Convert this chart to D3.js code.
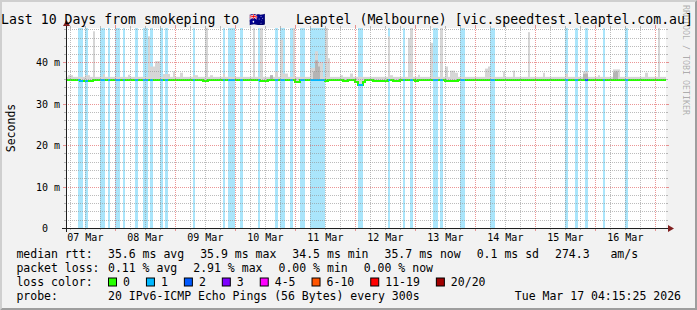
<!DOCTYPE html>
<html>
<head>
<meta charset="utf-8">
<script src="https://cdn.jsdelivr.net/npm/d3@7/dist/d3.min.js"></script>
<style>
  html, body { margin: 0; padding: 0; background: #f2f2f2; overflow: hidden; }
  svg { display: block; }
  text { font-family: "DejaVu Sans Mono", monospace; fill: #000; white-space: pre; }
</style>
</head>
<body>
<svg id="chart" width="697" height="310"></svg>
<script>
// ---------------- data ----------------
const titleParts = ["Last 10 Days from smokeping to ", "\u{1F1E6}\u{1F1FA}", " Leaptel (Melbourne) [vic.speedtest.leaptel.com.au]"];
const yAxisTitle = "Seconds";
const watermark = "RRDTOOL / TOBI OETIKER";
const rangeStart = new Date(2026, 2, 7, 4, 15, 25);
const rangeEnd = new Date(2026, 2, 17, 4, 15, 25);
const yMax = 48.3;
const yTickValues = [0, 10, 20, 30, 40];
const yTickLabels = ["0", "10 m", "20 m", "30 m", "40 m"];
const dayLabels = ["07 Mar", "08 Mar", "09 Mar", "10 Mar", "11 Mar", "12 Mar", "13 Mar", "14 Mar", "15 Mar", "16 Mar"];
const dayLabelDays = [7, 8, 9, 10, 11, 12, 13, 14, 15, 16];

// hourly rows, one row per day (07 Mar .. 17 Mar), index = hour of day
// lost pings (of 20) per hour
const lossRows = [
  [0,0,0,0,0,0,0,0,0,1,1,0,1,0,0,0,0,0,1,1,0,1,0,0],
  [1,1,0,1,0,0,0,0,1,0,0,1,1,0,1,0,0,0,1,0,1,0,0,0],
  [0,0,0,0,0,0,0,1,0,0,0,0,0,0,0,0,0,0,0,1,0,1,1,1],
  [0,0,1,0,0,0,0,0,0,1,0,0,0,0,0,0,1,0,1,1,0,0,1,0],
  [0,0,1,1,0,0,1,1,1,1,1,1,0,0,0,0,0,0,0,0,0,0,0,0],
  [0,1,1,0,0,0,0,0,0,0,0,0,0,1,0,0,0,0,0,1,0,0,1,0],
  [0,0,0,0,0,0,0,1,1,0,1,0,0,0,0,0,0,0,1,1,0,0,0,0],
  [0,0,0,0,0,0,1,1,0,0,0,0,0,0,0,0,0,0,0,0,0,0,0,0],
  [0,0,0,0,0,0,0,0,0,0,0,0,1,0,0,0,1,0,0,0,2,0,0,0],
  [0,0,0,1,0,0,0,0,0,0,0,0,1,0,0,0,0,0,0,0,0,0,0,0],
  [0,0,0,0,0]
];
// median rtt (ms) per hour
const medianRows = [
  [35.7,35.7,35.7,35.7,35.7,35.7,35.7,35.7,35.7,35.7,35.5,35.5,35.5,35.5,35.5,35.7,35.7,35.7,35.7,35.7,35.7,35.7,35.7,35.7],
  [35.7,35.7,35.7,35.7,35.7,35.7,35.7,35.7,35.7,35.7,35.7,35.7,35.7,35.7,35.7,35.7,35.7,35.7,35.7,35.7,35.7,35.7,35.7,35.7],
  [35.7,35.7,35.7,35.7,35.7,35.7,35.7,35.7,35.7,35.7,35.7,35.5,35.5,35.7,35.7,35.7,35.7,35.7,35.7,35.7,35.7,35.7,35.7,35.7],
  [35.7,35.7,35.7,35.7,35.7,35.7,35.7,35.7,35.7,35.7,35.5,35.5,35.5,35.7,35.7,35.7,35.7,35.7,35.7,35.7,35.7,35.7,35.7,35.7],
  [35.2,35.2,35.7,35.7,35.7,35.7,35.7,35.7,35.7,35.7,35.7,35.7,35.5,35.7,35.7,35.7,35.7,35.7,35.7,35.5,35.5,35.7,35.7,35.7],
  [35.2,34.5,34.5,35.2,35.7,35.7,35.7,35.5,35.5,35.5,35.5,35.5,35.5,35.7,35.7,35.5,35.5,35.5,35.7,35.7,35.7,35.7,35.7,35.7],
  [35.5,35.7,35.7,35.7,35.7,35.7,35.7,35.7,35.7,35.7,35.7,35.7,35.5,35.5,35.5,35.5,35.5,35.7,35.7,35.7,35.7,35.7,35.7,35.7],
  [35.7,35.7,35.7,35.7,35.7,35.7,35.7,35.7,35.7,35.7,35.7,35.7,35.7,35.7,35.7,35.7,35.7,35.7,35.7,35.7,35.7,35.7,35.7,35.7],
  [35.7,35.7,35.7,35.7,35.7,35.7,35.7,35.7,35.7,35.7,35.7,35.7,35.7,35.7,35.7,35.7,35.7,35.7,35.7,35.7,35.7,35.7,35.7,35.7],
  [35.7,35.7,35.7,35.7,35.7,35.7,35.7,35.7,35.7,35.7,35.7,35.7,35.7,35.7,35.7,35.7,35.7,35.7,35.7,35.7,35.7,35.7,35.7,35.7],
  [35.7,35.7,35.7,35.7,35.7]
];
// highest ping of the hour (ms) -- top of the smoke
const smokeTopRows = [
  [36.5,36.5,36.5,36.5,36.5,36.9,36.9,36.5,36.5,36.5,36.5,36.5,36.9,36.9,36.5,47.5,36.5,36.5,36.5,37.2,36.5,36.5,36.5,36.5],
  [36.5,36.5,36.5,36.5,36.5,37.0,36.5,36.5,36.5,36.5,36.5,36.5,36.5,46.3,39.0,39.0,40.3,40.3,36.5,37.2,37.2,37.2,36.5,37.8],
  [36.5,36.5,37.5,36.5,36.5,36.5,36.5,36.9,36.9,36.5,36.5,36.5,48.3,36.5,36.9,36.5,36.5,36.5,36.5,37.3,36.5,36.5,36.5,36.5],
  [36.5,36.5,36.5,36.5,36.5,36.5,36.5,48.3,36.5,36.5,48.3,36.5,36.5,36.5,36.9,36.5,37.8,36.5,45.5,37.3,37.3,36.5,36.5,48.3],
  [36.5,36.5,36.5,36.5,36.5,36.5,38.7,38.7,42.7,40.0,40.0,36.5,48.3,41.0,36.5,36.5,36.5,36.5,36.9,36.5,36.5,36.5,37.3,36.5],
  [36.5,36.5,36.5,36.5,36.5,36.5,36.5,36.5,36.5,36.5,36.5,36.5,36.5,46.3,36.9,36.5,36.5,36.5,36.5,36.5,36.5,45.9,48.3,36.5],
  [36.5,37.0,36.5,36.5,36.5,36.5,44.7,36.5,36.5,36.5,48.3,36.5,39.0,36.5,38.0,38.0,37.5,36.5,36.5,36.5,36.5,36.5,36.5,36.5],
  [36.5,36.5,36.5,36.5,38.5,39.0,36.5,36.5,36.5,36.5,36.5,37.8,36.5,36.5,36.5,38.0,36.5,36.5,36.5,36.5,36.5,47.3,36.5,36.5],
  [36.5,36.5,36.5,37.5,36.5,36.5,36.5,36.5,36.5,36.5,36.5,36.5,37.3,36.5,36.5,36.5,36.5,36.5,36.5,37.8,37.8,36.5,36.5,36.5],
  [36.5,36.9,36.5,36.5,36.5,36.5,36.5,38.3,38.3,38.3,36.5,36.5,36.5,36.5,36.5,36.5,36.5,36.5,36.5,36.5,37.5,36.5,36.5,36.5],
  [36.5,48.3,36.5,36.5,36.5]
];
// inner (darker) smoke: [hour offset from 07 Mar 00:00, ms]
const smokeDark = [[86, 36.9], [103, 37.8], [104, 40.5], [105, 39.0], [211, 37.2], [212, 37.3], [223, 37.6], [224, 37.8]];

const legendRtt = ["35.6 ms avg", "35.9 ms max", "34.5 ms min", "35.7 ms now", "0.1 ms sd", "274.3   am/s"];
const legendLoss = ["0.11 % avg", "2.91 % max", "0.00 % min", "0.00 % now"];
const lossColorLabels = ["0", "1", "2", "3", "4-5", "6-10", "11-19", "20/20"];
const lossColors = ["#26ff00", "#00b8ff", "#0059ff", "#7e00ff", "#ff00ff", "#ff5500", "#ff0000", "#a10000"];
const lossColorMax = [0, 1, 2, 3, 5, 10, 19, 20];
const probeText = "20 IPv6-ICMP Echo Pings (56 Bytes) every 300s";
const stampText = "Tue Mar 17 04:15:25 2026";

// ---------------- layout ----------------
const W = 697, H = 310;
const X0 = 66, X1 = 666, Y0 = 228, Y1 = 28;
const svg = d3.select("#chart");

svg.append("rect").attr("width", W).attr("height", H).attr("fill", "#f2f2f2");
svg.append("path").attr("d", `M0,${H} L2,${H-2} L2,2 L${W-2},2 L${W},0 L0,0 Z`).attr("fill", "#cfcfcf");
svg.append("path").attr("d", `M2,${H-2} L${W-2},${H-2} L${W-2},2 L${W},0 L${W},${H} L0,${H} Z`).attr("fill", "#9e9e9e");

const x = d3.scaleTime().domain([rangeStart, rangeEnd]).range([X0, X1]);
const y = d3.scaleLinear().domain([0, yMax]).range([Y0, Y1]);
const xs = t => Math.round(x(t));

svg.append("rect").attr("x", X0).attr("y", Y1).attr("width", X1 - X0).attr("height", Y0 - Y1).attr("fill", "#fff");

const defs = svg.append("defs");
defs.append("clipPath").attr("id", "plotclip").append("rect")
  .attr("x", X0).attr("y", Y1).attr("width", X1 - X0).attr("height", Y0 - Y1);

// flatten hourly rows
const dayBase = new Date(2026, 2, 7, 0, 0, 0);
const HOUR = 3600e3;
const bins = [];
lossRows.forEach((row, d) => {
  row.forEach((loss, hh) => {
    const h = d * 24 + hh;
    const t0 = new Date(+dayBase + h * HOUR), t1 = new Date(+dayBase + (h + 1) * HOUR);
    if (+t1 <= +rangeStart || +t0 >= +rangeEnd) return;
    bins.push({ h, t0, t1, loss, median: medianRows[d][hh], top: smokeTopRows[d][hh] });
  });
});
const binByH = new Map(bins.map(b => [b.h, b]));

const plot = svg.append("g").attr("clip-path", "url(#plotclip)");

// loss background
plot.append("g").selectAll("rect").data(bins.filter(b => b.loss > 0)).join("rect")
  .attr("x", b => xs(b.t0)).attr("width", b => xs(b.t1) - xs(b.t0))
  .attr("y", Y1).attr("height", Y0 - Y1)
  .attr("fill", "#aae5fb");

// smoke
plot.append("g").selectAll("rect").data(bins).join("rect")
  .attr("x", b => xs(b.t0)).attr("width", b => xs(b.t1) - xs(b.t0))
  .attr("y", b => y(b.top)).attr("height", b => Math.round(y(b.median)) - y(b.top))
  .attr("fill", "#d6d6d6");
plot.append("g").selectAll("rect").data(smokeDark.filter(s => binByH.has(s[0]))).join("rect")
  .attr("x", s => xs(binByH.get(s[0]).t0)).attr("width", s => xs(binByH.get(s[0]).t1) - xs(binByH.get(s[0]).t0))
  .attr("y", s => y(s[1])).attr("height", s => Math.round(y(binByH.get(s[0]).median)) - y(s[1]))
  .attr("fill", "#b4b4b4");

// median line (step), coloured by loss
function lossColor(l) { for (let i = 0; i < lossColorMax.length; i++) if (l <= lossColorMax[i]) return lossColors[i]; return lossColors[lossColors.length - 1]; }
const ym = v => Math.round(y(v));
const stepPts = [];
bins.forEach(b => { stepPts.push([xs(b.t0), ym(b.median)]); stepPts.push([xs(b.t1), ym(b.median)]); });
plot.append("path").attr("d", d3.line()(stepPts)).attr("fill", "none")
  .attr("stroke", lossColors[0]).attr("stroke-width", 2);
plot.append("g").selectAll("path").data(bins.filter(b => b.loss > 0)).join("path")
  .attr("d", b => d3.line()([[xs(b.t0), ym(b.median)], [xs(b.t1), ym(b.median)]]))
  .attr("stroke", b => lossColor(b.loss)).attr("stroke-width", 2).attr("fill", "none");

// grid
const grid = svg.append("g");
const minorY = d3.range(2, yMax, 2).filter(v => v % 10 !== 0);
const majorY = yTickValues.filter(v => v > 0);
const minorColor = "rgba(143,143,143,0.6)", majorColor = "rgba(222,80,80,0.6)";
minorY.forEach(v => {
  const yy = Math.round(y(v)) + 0.5;
  grid.append("line").attr("x1", X0).attr("x2", X1).attr("y1", yy).attr("y2", yy)
    .attr("stroke", minorColor).attr("stroke-dasharray", "1,1");
  grid.append("line").attr("x1", X0 - 2).attr("x2", X0).attr("y1", yy).attr("y2", yy).attr("stroke", minorColor);
  grid.append("line").attr("x1", X1).attr("x2", X1 + 2).attr("y1", yy).attr("y2", yy).attr("stroke", minorColor);
});
majorY.forEach(v => {
  const yy = Math.round(y(v)) + 0.5;
  grid.append("line").attr("x1", X0).attr("x2", X1).attr("y1", yy).attr("y2", yy)
    .attr("stroke", majorColor).attr("stroke-dasharray", "1,1");
  grid.append("line").attr("x1", X0 - 3).attr("x2", X0).attr("y1", yy).attr("y2", yy).attr("stroke", majorColor);
  grid.append("line").attr("x1", X1).attr("x2", X1 + 3).attr("y1", yy).attr("y2", yy).attr("stroke", majorColor);
});
const minorT = d3.timeHour.every(6).range(rangeStart, rangeEnd).filter(t => t.getHours() !== 0);
const majorT = d3.timeDay.range(rangeStart, rangeEnd);
minorT.forEach(t => {
  const xx = Math.round(x(t)) + 0.5;
  grid.append("line").attr("x1", xx).attr("x2", xx).attr("y1", Y1).attr("y2", Y0)
    .attr("stroke", minorColor).attr("stroke-dasharray", "1,1");
  grid.append("line").attr("x1", xx).attr("x2", xx).attr("y1", Y0).attr("y2", Y0 + 2).attr("stroke", minorColor);
  grid.append("line").attr("x1", xx).attr("x2", xx).attr("y1", Y1 - 2).attr("y2", Y1).attr("stroke", minorColor);
});
majorT.forEach(t => {
  const xx = Math.round(x(t)) + 0.5;
  grid.append("line").attr("x1", xx).attr("x2", xx).attr("y1", Y1).attr("y2", Y0)
    .attr("stroke", majorColor).attr("stroke-dasharray", "1,1");
  grid.append("line").attr("x1", xx).attr("x2", xx).attr("y1", Y0).attr("y2", Y0 + 3).attr("stroke", majorColor);
  grid.append("line").attr("x1", xx).attr("x2", xx).attr("y1", Y1 - 3).attr("y2", Y1).attr("stroke", majorColor);
});

// axes + arrows
svg.append("line").attr("x1", X0 - 4).attr("x2", X1 + 4).attr("y1", Y0 + 0.5).attr("y2", Y0 + 0.5).attr("stroke", "#1f1f1f");
svg.append("line").attr("x1", X0 + 0.5).attr("x2", X0 + 0.5).attr("y1", Y0 + 4).attr("y2", Y1 - 4).attr("stroke", "#1f1f1f");
svg.append("path").attr("d", `M${X1 + 2},${Y0 + 0.5 - 3.5} L${X1 + 2},${Y0 + 0.5 + 3.5} L${X1 + 8},${Y0 + 0.5} Z`).attr("fill", "#801f1f");
svg.append("path").attr("d", `M${X0 + 0.5 - 3.5},${Y1 - 2} L${X0 + 0.5 + 3.5},${Y1 - 2} L${X0 + 0.5},${Y1 - 8} Z`).attr("fill", "#801f1f");

// y labels
svg.append("g").selectAll("text").data(yTickValues).join("text")
  .attr("x", (v, i) => v === 0 ? 48 : 60)
  .attr("y", v => Math.round(y(v)) + 0.5).attr("dy", "0.35em")
  .attr("text-anchor", "end").attr("font-size", "10px")
  .text((v, i) => yTickLabels[i]);
// x labels
svg.append("g").selectAll("text").data(dayLabelDays).join("text")
  .attr("x", d => x(new Date(2026, 2, d, 12, 0, 0)))
  .attr("y", 241).attr("text-anchor", "middle").attr("font-size", "10px")
  .text((d, i) => dayLabels[i]);

// y axis title
svg.append("text").attr("transform", "translate(15,128) rotate(-90)")
  .attr("text-anchor", "middle").attr("font-size", "11.5px").text(yAxisTitle);

// watermark
svg.append("text").attr("transform", "translate(683,5) rotate(90)")
  .attr("font-size", "8.3px").attr("fill", "#000").attr("fill-opacity", 0.3).text(watermark);

// title
const titleX = [1, 249, 288];
titleParts.forEach((t, i) => {
  svg.append("text").attr("x", titleX[i]).attr("y", 24).attr("font-size", "13.2px").text(t);
});

// legend
const LX = 16.4, VX = 108, GAP = 16, FS = "11.5px";
const rowsY = [257.5, 271.5, 285.5, 299.5];
function txt(xp, yp, s, anchor) {
  return svg.append("text").attr("x", xp).attr("y", yp).attr("font-size", FS)
    .attr("text-anchor", anchor || "start").text(s);
}
txt(LX, rowsY[0], "median rtt:");
let cx = VX;
legendRtt.forEach(s => { const n = txt(cx, rowsY[0], s); cx += n.node().getComputedTextLength() + GAP; });
txt(LX, rowsY[1], "packet loss:");
cx = VX;
legendLoss.forEach(s => { const n = txt(cx, rowsY[1], s); cx += n.node().getComputedTextLength() + GAP; });
txt(LX, rowsY[2], "loss color:");
cx = VX;
lossColorLabels.forEach((s, i) => {
  svg.append("rect").attr("x", cx + 0.5).attr("y", rowsY[2] - 7.5).attr("width", 8).attr("height", 8)
    .attr("fill", lossColors[i]).attr("stroke", "#000").attr("stroke-width", 1);
  const n = txt(cx + 15, rowsY[2], s);
  cx += 15 + n.node().getComputedTextLength() + GAP;
});
txt(LX, rowsY[3], "probe:");
txt(VX, rowsY[3], probeText);
txt(681, rowsY[3], stampText, "end");
</script>
</body>
</html>
